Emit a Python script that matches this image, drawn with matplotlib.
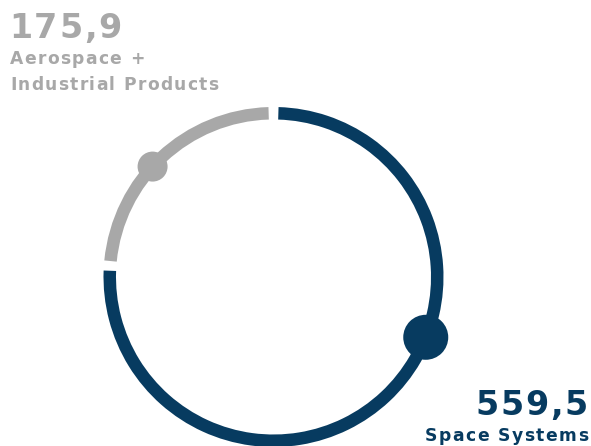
import numpy as np
import matplotlib
matplotlib.use("Agg")
import matplotlib.pyplot as plt
from matplotlib.patches import Wedge, Circle
from matplotlib.font_manager import FontProperties, findfont
from matplotlib.ft2font import FT2Font

# segment values (EUR m), drawn clockwise from 12 o'clock
labels = ["Space Systems", "Aerospace +\nIndustrial Products"]
values = [559.5, 175.9]
value_text = ["559,5", "175,9"]
colors = ["#073B60", "#A8A8A8"]
dot_angles = [-21.6, 137.6]   # where the marker dots sit on each arc
dot_radius = [22.5, 15]

W, H = 591, 446
DPI = 100
fig = plt.figure(figsize=(W / DPI, H / DPI), dpi=DPI)
ax = fig.add_axes([0, 0, 1, 1])
ax.set_xlim(0, W)
ax.set_ylim(0, H)
ax.set_aspect("equal")
ax.axis("off")

cx, cy = 273.5, H - 277
r_out, ring_w = 170, 12.5
gap = 3.4  # degrees between segments

total = sum(values)
start = 90.0
for v, c in zip(values, colors):
    sweep = v / total * 360
    end = start - sweep
    ax.add_patch(Wedge((cx, cy), r_out, end + gap / 2, start - gap / 2,
                       width=ring_w, color=c, lw=0))
    start = end

r_mid = r_out - ring_w / 2
for a, c, rd in zip(dot_angles, colors, dot_radius):
    t = np.deg2rad(a)
    ax.add_patch(Circle((cx + r_mid * np.cos(t), cy + r_mid * np.sin(t)), rd,
                        color=c, lw=0))

prop = FontProperties(family="DejaVu Sans", weight="bold")
ftfont = FT2Font(findfont(prop))


def tracked(x, y, s, size, color, track=0.0, ha="left"):
    # draw s one glyph at a time with extra spacing (px) between letters
    ftfont.set_size(size, DPI)
    adv = []
    for ch in s:
        g = ftfont.load_char(ord(ch))
        adv.append(g.linearHoriAdvance / 65536 + track)
    width = sum(adv) - track
    if ha == "right":
        x -= width
    for ch, a in zip(s, adv):
        ax.text(x, y, ch, color=color, fontsize=size, fontproperties=prop,
                ha="left", va="baseline")
        x += a


tracked(9, H - 38, value_text[1], 24, colors[1], track=1.8)
line1, line2 = labels[1].split("\n")
tracked(10, H - 64, line1, 12.3, colors[1], track=1.3)
tracked(10, H - 90, line2, 12.3, colors[1], track=1.3)

tracked(588, H - 415, value_text[0], 24, colors[0], track=1.8, ha="right")
tracked(588, H - 441, labels[0], 12.3, colors[0], track=1.5, ha="right")

fig.savefig("out.png", dpi=DPI)
